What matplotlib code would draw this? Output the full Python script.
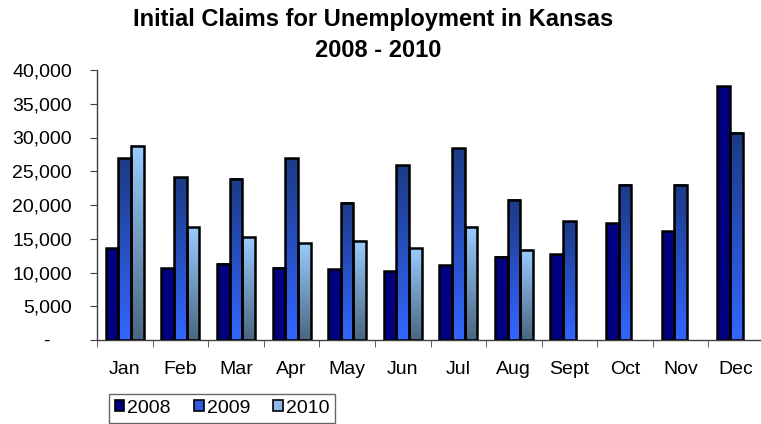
import numpy as np
import matplotlib
matplotlib.use("Agg")
import matplotlib.pyplot as plt
from matplotlib.colors import LinearSegmentedColormap
from matplotlib.patches import Patch
from matplotlib.ticker import FuncFormatter

# data
months = ["Jan", "Feb", "Mar", "Apr", "May", "Jun", "Jul", "Aug", "Sept", "Oct", "Nov", "Dec"]
claims_2008 = [13600, 10600, 11300, 10700, 10500, 10200, 11100, 12300, 12700, 17300, 16100, 37600]
claims_2009 = [26900, 24100, 23900, 26900, 20300, 25900, 28400, 20800, 17600, 23000, 23000, 30700]
claims_2010 = [28800, 16700, 15200, 14300, 14700, 13600, 16800, 13400, None, None, None, None]
years = ["2008", "2009", "2010"]

# gradient colours (top, bottom) for each series
grad = [("#000080", "#000080"), ("#1c3a85", "#3366ff"), ("#99ccff", "#4a6680")]
legend_cols = ["#000080", "#2f5be0", "#8fb8e6"]

plt.rcParams['font.family'] = ['Liberation Sans', 'DejaVu Sans']

fig = plt.figure(figsize=(7.61, 4.24), dpi=100)
ax = fig.add_axes([97 / 761, 1 - 340 / 424, 667 / 761, 270 / 424])

w = 0.228
x = np.arange(len(months))
for i, vals in enumerate([claims_2008, claims_2009, claims_2010]):
    cmap = LinearSegmentedColormap.from_list("g%d" % i, [grad[i][1], grad[i][0]])
    g = np.linspace(0, 1, 256).reshape(-1, 1)
    for xi, v in zip(x, vals):
        if v is None:
            continue
        x0 = xi + (i - 1) * w - w / 2
        ax.imshow(g, extent=[x0, x0 + w, 0, v], origin="lower", aspect="auto",
                  cmap=cmap, zorder=2, interpolation="bilinear")
        ax.bar(x0, v, width=w, align="edge", facecolor="none",
               edgecolor="black", linewidth=1.8, zorder=3)

ax.set_xlim(-0.5, 11.5)
ax.set_ylim(0, 40000)
ax.set_yticks(np.arange(0, 40001, 5000))
# accounting style: zero shown as a dash, padded with non-breaking spaces
ax.yaxis.set_major_formatter(FuncFormatter(
    lambda v, p: "-" + "\u00a0" * 4 if v == 0 else f"{v:,.0f}"))
ax.set_xticks(x)
ax.set_xticklabels(months)
ax.set_xticks(np.arange(-0.5, 12, 1), minor=True)
ax.tick_params(axis="x", which="major", length=0, pad=15, labelsize=14)
ax.tick_params(axis="x", which="minor", length=5, color="#404040", direction="out")
ax.tick_params(axis="y", length=5, color="#404040", pad=13, labelsize=14)
for s in ["top", "right"]:
    ax.spines[s].set_visible(False)
for s in ["left", "bottom"]:
    ax.spines[s].set_color("#404040")
    ax.spines[s].set_linewidth(1)

fig.text(0.49, 0.953, "Initial Claims for Unemployment in Kansas", ha="center", va="center",
         fontsize=17, fontweight="bold")
fig.text(0.497, 0.880, "2008 - 2010", ha="center", va="center", fontsize=17, fontweight="bold")

handles = [Patch(facecolor=c, edgecolor="black", linewidth=1.2) for c in legend_cols]
fig.legend(handles, years, loc="upper left", bbox_to_anchor=(0.143, 0.071), ncol=3,
           frameon=True, fancybox=False, edgecolor="#404040", fontsize=14,
           handlelength=0.5, handleheight=0.5, handletextpad=0.15, columnspacing=1.2,
           borderpad=0.3, borderaxespad=0)

fig.savefig("out.png", dpi=100)
